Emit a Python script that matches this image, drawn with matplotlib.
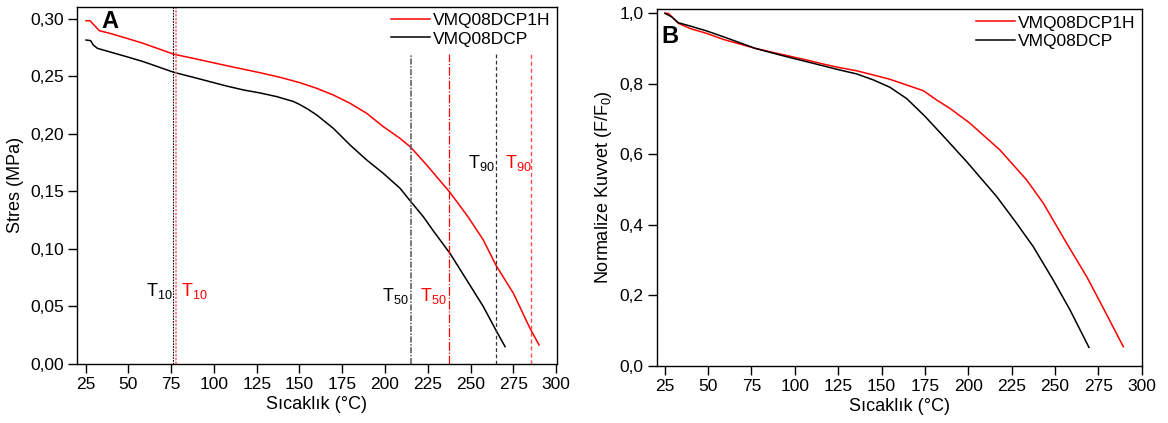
import matplotlib
matplotlib.use("Agg")
import matplotlib.pyplot as plt
from matplotlib.ticker import FuncFormatter

plt.rcParams['font.family'] = ['Liberation Sans', 'DejaVu Sans']
plt.rcParams['mathtext.fontset'] = 'custom'
plt.rcParams['mathtext.rm'] = 'Liberation Sans'
plt.rcParams['mathtext.it'] = 'Liberation Sans'
plt.rcParams['mathtext.default'] = 'regular'

# ---- Panel A: stress (MPa) vs temperature (°C) ----
tA_red = [25.2, 27.5, 30.4, 33.0, 39.2, 49.0, 58.7, 76.6, 87.9, 107.4, 126.9, 138.6, 150.3, 160.1,
          169.8, 179.6, 189.3, 199.0, 208.8, 215.1, 224.4, 237.6, 243.9, 249.0, 257.5,
          264.8, 275.1, 284.8, 290.1]
sA_red = [0.2985, 0.2985, 0.2939, 0.2898, 0.2875, 0.2832, 0.2788, 0.2693, 0.2658, 0.2594, 0.2533,
          0.2493, 0.2446, 0.2397, 0.2339, 0.2267, 0.2180, 0.2064, 0.1962, 0.1884, 0.1730, 0.1499,
          0.1374, 0.1270, 0.1078, 0.0861, 0.0614, 0.0310, 0.0165]
tA_blk = [25.2, 27.9, 29.4, 31.8, 35.3, 49.0, 58.7, 76.6, 87.9, 107.4, 117.2, 126.9, 136.7, 146.4,
          150.3, 155.0, 160.1, 169.8, 179.6, 189.3, 199.0, 208.8, 215.1, 222.4, 227.9, 238.0,
          247.8, 257.5, 264.8, 270.2]
sA_blk = [0.2817, 0.2812, 0.2774, 0.2745, 0.2730, 0.2672, 0.2629, 0.2536, 0.2493, 0.2417, 0.2383,
          0.2357, 0.2325, 0.2283, 0.2255, 0.2215, 0.2165, 0.2049, 0.1904, 0.1774, 0.1658, 0.1528,
          0.1412, 0.1281, 0.1165, 0.0962, 0.0730, 0.0499, 0.0296, 0.0151]

# ---- Panel B: normalized force (F/F0) vs temperature (°C) ----
tB_red = [25.2, 27.1, 30.0, 32.9, 39.6, 49.2, 58.8, 77.1, 91.5, 106.9, 116.5, 126.1, 135.7, 145.3,
          154.9, 164.5, 174.1, 181.8, 189.5, 201.0, 218.3, 233.7, 243.3, 256.8, 268.3, 277.9, 289.4]
fB_red = [1.000, 1.000, 0.986, 0.9716, 0.957, 0.943, 0.926, 0.9007, 0.8845, 0.8675, 0.856, 0.8456,
          0.837, 0.825, 0.8127, 0.7966, 0.7804, 0.754, 0.730, 0.688, 0.612, 0.527, 0.461, 0.347,
          0.2526, 0.163, 0.054]
tB_blk = [25.2, 29.0, 32.9, 39.6, 49.2, 58.8, 77.1, 91.5, 106.9, 126.1, 135.7, 145.3, 154.9, 164.5,
          175.0, 185.0, 199.1, 216.4, 227.9, 237.5, 249.0, 258.7, 269.6]
fB_blk = [1.000, 0.990, 0.9733, 0.964, 0.950, 0.9336, 0.9007, 0.8817, 0.8627, 0.839, 0.828, 0.811,
          0.790, 0.758, 0.708, 0.655, 0.579, 0.480, 0.404, 0.3377, 0.243, 0.158, 0.052]

labels = ['VMQ08DCP1H', 'VMQ08DCP']
xticks = [25, 50, 75, 100, 125, 150, 175, 200, 225, 250, 275, 300]
yticksA = [0.00, 0.05, 0.10, 0.15, 0.20, 0.25, 0.30]
yticksB = [0.0, 0.2, 0.4, 0.6, 0.8, 1.0]

# characteristic temperatures (black sample, red sample)
T10 = (76.3, 77.9)
T50 = (215.0, 237.6)
T90 = (265.0, 285.2)

RED = '#ff0000'
fs = 12.5

fig = plt.figure(figsize=(11.68, 4.23), dpi=100)
axA = fig.add_axes([0.06592, 0.13948, 0.4107, 0.8447])
axB = fig.add_axes([0.56224, 0.13546, 0.41524, 0.84255])

for ax in (axA, axB):
    ax.set_xticks(xticks)
    ax.tick_params(direction='out', length=6.5, width=1, labelsize=fs, pad=3)
    for s in ax.spines.values():
        s.set_linewidth(1.0)

# Panel A
axA.plot(tA_red, sA_red, color=RED, lw=1.1, label=labels[0])
axA.plot(tA_blk, sA_blk, color='black', lw=1.1, label=labels[1])
axA.set_xlim(19.9, 300.4)
axA.set_ylim(0, 0.3107)
axA.set_yticks(yticksA)
axA.yaxis.set_major_formatter(FuncFormatter(lambda v, p: f"{v:.2f}".replace('.', ',')))
axA.set_xlabel('Sıcaklık (°C)', fontsize=13, labelpad=3)
axA.set_ylabel('Stres (MPa)', fontsize=13, labelpad=4)

ytop = 0.2695
axA.axvline(T10[0], color='black', lw=0.8, ls=(0, (1.5, 1)))
axA.axvline(T10[1], color='#ff6060', lw=1.1, ls=(0, (1.5, 1)))
axA.plot([T50[0], T50[0]], [0, ytop], color='#555555', lw=1.1, ls=(0, (4, 1, 1, 1)))
axA.plot([T50[1], T50[1]], [0, ytop], color=RED, lw=0.9, ls=(0, (7, 1.5, 1, 1.5)))
axA.plot([T90[0], T90[0]], [0, ytop], color='#333333', lw=0.9, ls=(0, (3, 2)))
axA.plot([T90[1], T90[1]], [0, ytop], color='#ff5050', lw=1.0, ls=(0, (3, 2)))

def tlabel(ax, x, y, sub, color, ha):
    ax.text(x, y, 'T$_{' + sub + '}$', color=color, fontsize=13, ha=ha, va='baseline')

tlabel(axA, 75.8, 0.059, '10', 'black', 'right')
tlabel(axA, 80.6, 0.059, '10', RED, 'left')
tlabel(axA, 213.9, 0.055, '50', 'black', 'right')
tlabel(axA, 236.3, 0.055, '50', RED, 'right')
tlabel(axA, 264.1, 0.170, '90', 'black', 'right')
tlabel(axA, 285.9, 0.170, '90', RED, 'right')

axA.text(0.051, 0.992, 'A', transform=axA.transAxes, fontsize=17, fontweight='bold',
         ha='left', va='top')

# Panel B
axB.plot(tB_red, fB_red, color=RED, lw=1.1, label=labels[0])
axB.plot(tB_blk, fB_blk, color='black', lw=1.1, label=labels[1])
axB.set_xlim(20.4, 300.0)
axB.set_ylim(0, 1.0114)
axB.set_yticks(yticksB)
axB.yaxis.set_major_formatter(FuncFormatter(lambda v, p: f"{v:.1f}".replace('.', ',')))
axB.set_xlabel('Sıcaklık (°C)', fontsize=13, labelpad=3)
axB.set_ylabel('Normalize Kuvvet (F/F$_0$)', fontsize=13, labelpad=4)
axB.text(0.010, 0.955, 'B', transform=axB.transAxes, fontsize=17, fontweight='bold',
         ha='left', va='top')

for ax in (axA, axB):
    ax.legend(loc='upper right', frameon=False, fontsize=fs, handlelength=2.2,
              handletextpad=0.2, labelspacing=0.2, borderaxespad=0.15, borderpad=0.2)

fig.savefig('out.png', dpi=100)
